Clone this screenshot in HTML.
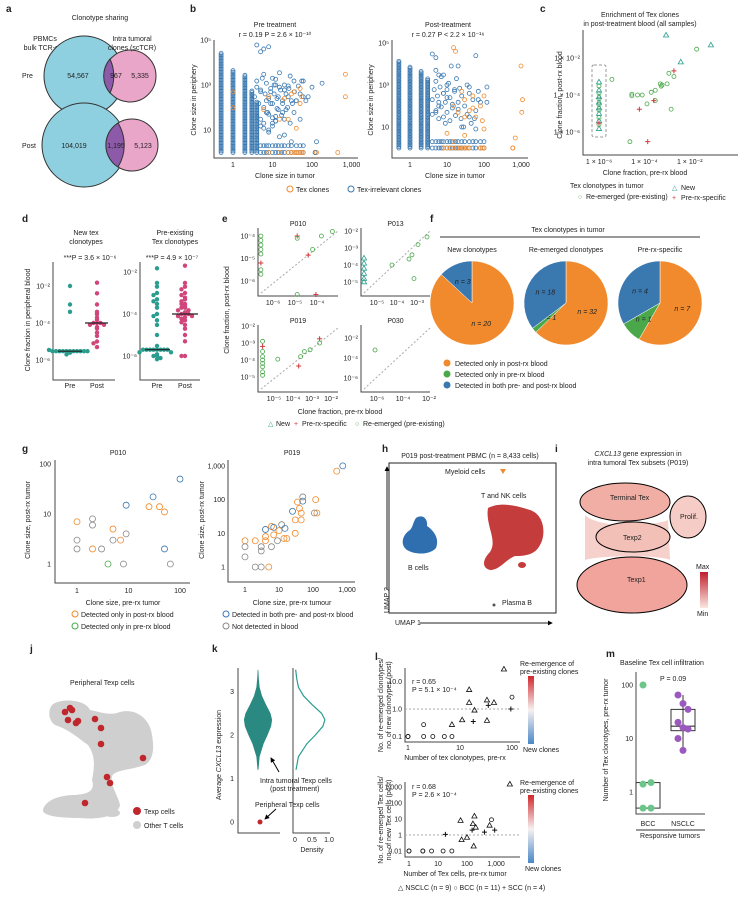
<!DOCTYPE html>
<html><head><meta charset="utf-8"><style>
html,body{margin:0;padding:0;background:#fff}
svg{display:block;font-family:"Liberation Sans",sans-serif}
text{font-size:7px;fill:#222}
.pl{font-size:10px;font-weight:bold}
.ax{stroke:#444;stroke-width:1;fill:none}
</style></head><body>
<svg id="fig" width="743" height="906" viewBox="0 0 743 906">
<defs><linearGradient id="gr" x1="0" y1="0" x2="0" y2="1"><stop offset="0" stop-color="#c0202a"/><stop offset="1" stop-color="#fbe6e2"/></linearGradient>
<linearGradient id="gl" x1="0" y1="0" x2="0" y2="1"><stop offset="0" stop-color="#d0282c"/><stop offset="0.5" stop-color="#f7f0f0"/><stop offset="1" stop-color="#4a88c8"/></linearGradient>
<marker id="arr" viewBox="0 0 6 6" refX="5" refY="3" markerWidth="5" markerHeight="5" orient="auto"><path d="M0,0L6,3L0,6Z" fill="#000"/></marker></defs>
<g id="static">
<!-- panel a -->
<text class="pl" x="6" y="12">a</text>
<text x="100" y="20" text-anchor="middle">Clonotype sharing</text>
<text x="45" y="41" text-anchor="middle">PBMCs</text>
<text x="45" y="50" text-anchor="middle">bulk TCR-seq</text>
<circle cx="84" cy="76" r="40" fill="#8fd0e0" stroke="#333"/>
<circle cx="130" cy="76" r="26" fill="#e9a6c9" stroke="#333"/>
<path d="M110,59 A26,26 0 0 0 110,93 A40,40 0 0 0 110,59Z" fill="#8c5aa8" stroke="#333"/>
<text x="132" y="41" text-anchor="middle">Intra tumoral</text>
<text x="132" y="50" text-anchor="middle">clones (scTCR)</text>
<text x="22" y="78">Pre</text>
<text x="78" y="78" text-anchor="middle">54,567</text>
<text x="116" y="78" text-anchor="middle">967</text>
<text x="140" y="78" text-anchor="middle">5,335</text>
<circle cx="84" cy="145" r="42" fill="#8fd0e0" stroke="#333"/>
<circle cx="132" cy="145" r="26" fill="#e9a6c9" stroke="#333"/>
<path d="M118,123 A26,26 0 0 0 118,167 A42,42 0 0 0 118,123Z" fill="#8c5aa8" stroke="#333"/>
<text x="22" y="148">Post</text>
<text x="74" y="148" text-anchor="middle">104,019</text>
<text x="116" y="148" text-anchor="middle">1,195</text>
<text x="143" y="148" text-anchor="middle">5,123</text>
<!-- panel b -->
<text class="pl" x="190" y="12">b</text>
<text x="275" y="27" text-anchor="middle">Pre treatment</text>
<text x="275" y="37" text-anchor="middle">r = 0.19   P = 2.6 × 10⁻¹⁰</text>
<text x="448" y="27" text-anchor="middle">Post-treatment</text>
<text x="448" y="37" text-anchor="middle">r = 0.27   P &lt; 2.2 × 10⁻¹⁶</text>
<text x="285" y="178" text-anchor="middle">Clone size in tumor</text>
<text x="455" y="178" text-anchor="middle">Clone size in tumor</text>
<text transform="translate(196,100) rotate(-90)" text-anchor="middle">Clone size in periphery</text>
<text transform="translate(373,100) rotate(-90)" text-anchor="middle">Clone size in periphery</text>
<circle cx="290" cy="189" r="3" fill="none" stroke="#f08a2c"/>
<text x="296" y="192">Tex clones</text>
<circle cx="351" cy="189" r="3" fill="none" stroke="#3a78b0"/>
<text x="357" y="192">Tex-irrelevant clones</text>
<!-- panel c -->
<text class="pl" x="540" y="12">c</text>
<text x="640" y="17" text-anchor="middle">Enrichment of Tex clones</text>
<text x="640" y="26" text-anchor="middle">in post-treatment blood (all samples)</text>
<text x="645" y="175" text-anchor="middle">Clone fraction, pre-rx blood</text>
<text transform="translate(562,95) rotate(-90)" text-anchor="middle">Clone fraction, post-rx blood</text>
<rect x="592" y="65" width="14" height="72" rx="2" fill="none" stroke="#999" stroke-dasharray="3,2"/>
<text x="570" y="188">Tex clonotypes in tumor</text>
<text x="578" y="199" style="fill:#4aa84a">○</text>
<text x="586" y="199">Re-emerged (pre-existing)</text>
<text x="672" y="190" style="fill:#2a9d8f">△</text>
<text x="681" y="190">New</text>
<text x="672" y="200" style="fill:#d23a3a">+</text>
<text x="681" y="200">Pre-rx-specific</text>
<!-- panel d -->
<text class="pl" x="22" y="222">d</text>
<text x="86" y="235" text-anchor="middle">New tex</text>
<text x="86" y="244" text-anchor="middle">clonotypes</text>
<text x="90" y="260" text-anchor="middle">***P = 3.6 × 10⁻⁶</text>
<text x="175" y="235" text-anchor="middle">Pre-existing</text>
<text x="175" y="244" text-anchor="middle">Tex clonotypes</text>
<text x="172" y="260" text-anchor="middle">***P = 4.9 × 10⁻⁷</text>
<text transform="translate(30,320) rotate(-90)" text-anchor="middle">Clone fraction in peripheral blood</text>
<!-- panel e -->
<text class="pl" x="222" y="222">e</text>
<text transform="translate(229,310) rotate(-90)" text-anchor="middle">Clone fraction, post-rx blood</text>
<text x="340" y="414" text-anchor="middle">Clone fraction, pre-rx blood</text>
<!-- panel f -->
<text class="pl" x="430" y="222">f</text>
<text x="568" y="232" text-anchor="middle">Tex clonotypes in tumor</text>
<line x1="440" y1="237" x2="700" y2="237" stroke="#333"/>
<text x="472" y="252" text-anchor="middle">New clonotypes</text>
<text x="566" y="252" text-anchor="middle">Re-emerged clonotypes</text>
<text x="660" y="252" text-anchor="middle">Pre-rx-specific</text>
<circle cx="447" cy="363" r="3.5" fill="#f08a2c"/>
<text x="455" y="366">Detected only in post-rx blood</text>
<circle cx="447" cy="374" r="3.5" fill="#4aa84a"/>
<text x="455" y="377">Detected only in pre-rx blood</text>
<circle cx="447" cy="385" r="3.5" fill="#3a78b0"/>
<text x="455" y="388">Detected in both pre- and post-rx blood</text>
<!-- panel g -->
<text class="pl" x="22" y="452">g</text>
<text x="118" y="455" text-anchor="middle">P010</text>
<text x="292" y="455" text-anchor="middle">P019</text>
<text x="123" y="605" text-anchor="middle">Clone size, pre-rx tumor</text>
<text x="292" y="605" text-anchor="middle">Clone size, pre-rx tumour</text>
<text transform="translate(30,520) rotate(-90)" text-anchor="middle">Clone size, post-rx tumor</text>
<text transform="translate(204,520) rotate(-90)" text-anchor="middle">Clone size, post-rx tumor</text>
<circle cx="75" cy="614" r="3" fill="none" stroke="#f08a2c"/>
<text x="81" y="617">Detected only in post-rx blood</text>
<circle cx="75" cy="626" r="3" fill="none" stroke="#4aa84a"/>
<text x="81" y="629">Detected only in pre-rx blood</text>
<circle cx="226" cy="614" r="3" fill="none" stroke="#3a78b0"/>
<text x="232" y="617">Detected in both pre- and post-rx blood</text>
<circle cx="226" cy="626" r="3" fill="none" stroke="#888"/>
<text x="232" y="629">Not detected in blood</text>
<!-- panel h -->
<text class="pl" x="382" y="452">h</text>
<text x="470" y="458" text-anchor="middle">P019 post-treatment PBMC (n = 8,433 cells)</text>
<rect x="389" y="463" width="167" height="150" fill="none" stroke="#222"/>
<line x1="420" y1="623" x2="552" y2="623" stroke="#222" marker-end="url(#arr)"/>
<text x="395" y="625">UMAP 1</text>
<line x1="387" y1="590" x2="387" y2="467" stroke="#222" marker-end="url(#arr)"/>
<text transform="translate(389,613) rotate(-90)">UMAP 2</text>
<text x="445" y="474">Myeloid cells</text>
<path d="M500,469 l6,0 l-3,5z" fill="#f08a2c"/>
<text x="481" y="498">T and NK cells</text>
<path d="M488,508 C500,502 515,505 530,510 C545,515 546,535 540,545 C535,555 525,556 515,556 C505,560 500,570 490,570 C482,568 482,560 490,552 C498,540 485,525 488,508Z" fill="#c43c3c"/>
<ellipse cx="522" cy="565" rx="4" ry="3" fill="#c43c3c"/>
<path d="M416,518 C422,514 428,518 427,526 C433,530 440,538 436,548 C430,555 415,555 407,550 C400,545 402,535 410,530 C413,527 413,522 416,518Z" fill="#2f6fb0"/>
<text x="408" y="570">B cells</text>
<circle cx="494" cy="605" r="1.5" fill="#555"/>
<text x="502" y="605">Plasma B</text>
<!-- panel i -->
<text class="pl" x="555" y="452">i</text>
<text x="638" y="456" text-anchor="middle"><tspan font-style="italic">CXCL13</tspan> gene expression in</text>
<text x="638" y="465" text-anchor="middle">intra tumoral Tex subsets (P019)</text>
<path d="M585,515 C600,530 660,525 668,520 L670,560 C660,555 600,555 585,560Z" fill="#f6d0ca"/>
<ellipse cx="625" cy="502" rx="45" ry="19" fill="#f0aea4" stroke="#000"/>
<text x="610" y="500">Terminal Tex</text>
<ellipse cx="688" cy="517" rx="18" ry="21" fill="#f6cdc6" stroke="#000"/>
<text x="680" y="519">Prolif.</text>
<ellipse cx="633" cy="537" rx="37" ry="15" fill="#f3c0b8" stroke="#000"/>
<text x="623" y="540">Texp2</text>
<ellipse cx="632" cy="585" rx="55" ry="28" fill="#f0a49c" stroke="#000"/>
<text x="627" y="582">Texp1</text>
<rect x="700" y="572" width="8" height="36" fill="url(#gr)"/>
<text x="696" y="569">Max</text>
<text x="697" y="616">Min</text>
<!-- panel j -->
<text class="pl" x="30" y="652">j</text>
<text x="70" y="685">Peripheral Texp cells</text>
<path d="M52,705 C60,698 85,699 90,710 C100,712 110,716 120,712 C135,708 150,718 152,735 C155,752 152,760 145,765 C130,770 115,770 112,776 C110,786 118,795 120,805 C118,816 100,820 80,818 C55,818 42,815 43,810 C45,800 60,795 75,795 C90,794 95,790 92,780 C95,765 95,755 88,745 C78,738 70,730 55,725 C48,720 48,710 52,705Z" fill="#cfcfcf"/>
<ellipse cx="112" cy="813" rx="8" ry="4" fill="#cfcfcf"/>
<circle cx="137" cy="811" r="4" fill="#c0272d"/>
<text x="144" y="814">Texp cells</text>
<circle cx="137" cy="825" r="4" fill="#cfcfcf"/>
<text x="144" y="828">Other T cells</text>
<!-- panel k -->
<text class="pl" x="212" y="652">k</text>
<text transform="translate(221,755) rotate(-90)" text-anchor="middle">Average <tspan font-style="italic">CXCL13</tspan> expression</text>
<text x="260" y="783">Intra tumoral Texp cells</text>
<text x="270" y="791">(post treatment)</text>
<line x1="279" y1="772" x2="271" y2="758" stroke="#000" marker-end="url(#arr)"/>
<text x="255" y="807">Peripheral Texp cells</text>
<line x1="276" y1="809" x2="265" y2="819" stroke="#000" marker-end="url(#arr)"/>
<text x="312" y="852" text-anchor="middle">Density</text>
<!-- panel l -->
<text class="pl" x="375" y="660">l</text>
<text x="412" y="684">r = 0.65</text>
<text x="412" y="692">P = 5.1 × 10⁻⁴</text>
<text x="455" y="760" text-anchor="middle">Number of tex clonotypes, pre-rx</text>
<text transform="translate(383,705) rotate(-90)" text-anchor="middle">No. of re-emerged clonotypes/</text>
<text transform="translate(391,705) rotate(-90)" text-anchor="middle">no. of new clonotypes (post)</text>
<rect x="528" y="676" width="6" height="68" fill="url(#gl)"/>
<text x="520" y="666">Re-emergence of</text>
<text x="520" y="674">pre-existing clones</text>
<text x="523" y="752">New clones</text>
<text x="412" y="789">r = 0.68</text>
<text x="412" y="797">P = 2.6 × 10⁻⁴</text>
<text x="455" y="876" text-anchor="middle">Number of Tex cells, pre-rx tumor</text>
<text transform="translate(383,820) rotate(-90)" text-anchor="middle">No. of re-emerged Tex cells/</text>
<text transform="translate(391,820) rotate(-90)" text-anchor="middle">no. of new Tex cells (post)</text>
<rect x="528" y="795" width="6" height="68" fill="url(#gl)"/>
<text x="520" y="785">Re-emergence of</text>
<text x="520" y="793">pre-existing clones</text>
<text x="525" y="871">New clones</text>
<text x="398" y="890">△ NSCLC (n = 9)  ○ BCC (n = 11)  + SCC (n = 4)</text>
<!-- panel m -->
<text class="pl" x="606" y="657">m</text>
<text x="662" y="665" text-anchor="middle">Baseline Tex cell infiltration</text>
<text x="660" y="681">P = 0.09</text>
<text transform="translate(608,740) rotate(-90)" text-anchor="middle">Number of Tex clonotypes, pre-rx tumor</text>
<text x="648" y="826" text-anchor="middle">BCC</text>
<text x="683" y="826" text-anchor="middle">NSCLC</text>
<line x1="636" y1="830" x2="705" y2="830" stroke="#333"/>
<text x="670" y="838" text-anchor="middle">Responsive tumors</text>
</g>
<g id="dyn"></g>
</svg>
<script>
// ---------- data ----------
const bPreColX=[0.5,1,2,3,4];
const bPreColLo=[1,1,1,1,1];
const bPreColHi=[30000,5000,3000,600,200];
const bPreX=[1,1,4,5,6,8,8,10,12,15,20,25,30,35,40,50,60,80,100,130,180,6,9,12,18,25,40,55,70,120,8,20,30,50,700,700,20,35,50,10,15];
const bPreY=[500,100,60000,30000,40000,50000,300,2000,1000,800,600,900,400,1500,200,700,1500,300,800,3,1200,80,150,25,60,30,12,300,200,1,10,6,3,30,3000,300,250,500,150,15,30];
const bPreT=[1,1,0,0,0,0,1,0,0,0,0,0,1,0,0,1,0,0,0,0,0,1,0,0,0,1,1,1,0,0,0,0,0,0,1,1,1,1,1,0,1];
const bPreCloudX=[3.5,4,4.5,5,5.5,6,6.5,7,7.5,8,9,10,11,12,13,14,16,18,20,22,25,28,32,36,40,45,50,55,60,4,5,6,7,8,10,12,14,17,20,24,28,35,4,5,6,7,9,11,13,15,18,22,26,30,5,6,8,10,12,15];
const bPreCloudY=[300,800,150,500,2000,100,400,1200,60,250,700,150,400,1800,90,300,600,200,1000,80,300,2500,150,500,200,900,400,1500,300,40,30,20,60,50,35,25,80,45,30,100,20,60,1500,600,3000,200,500,1000,250,3500,150,400,700,200,15,12,8,20,40,5];
const bPreRowX=[5,6,7,8,10,12,14,17,20,25,30,40,50,60];
const bPreTexRowX=[8,15,25,30,35,40,45,50,55,60,120,130,450];
const bPostColX=[0.5,1,2,3];
const bPostColLo=[1,1,1,1];
const bPostColHi=[15000,8000,5000,2000];
const bPostX=[4,5,8,10,15,17,20,25,30,40,50,60,80,100,120,15,20,30,40,50,60,70,90,100,600,700,1000,1100,1050,10,15,25,30,40,60,5,6,120];
const bPostY=[30000,20000,3000,1000,60000,40000,8000,500,200,800,300,25000,100,300,150,100,50,30,60,80,30,200,20,8,1,3,8000,200,50,5,2,10,4,30,8,50,150,800];
const bPostT=[0,0,0,0,1,1,0,1,1,0,1,0,1,1,0,1,1,1,1,1,1,0,1,1,1,1,1,1,1,1,1,0,1,0,0,0,0,0];
const bPostCloudX=[4,4.5,5,5.5,6,6.5,7,8,9,10,11,12,14,16,18,20,22,25,30,35,40,50,60,70,80,4,5,6,7,8,9,10,12,14,17,20,24,28,35,45,55,5,6,8,10,13,16];
const bPostCloudY=[200,600,1500,300,100,800,2500,400,150,600,1200,250,80,500,2000,150,700,300,100,1000,400,200,60,500,150,40,60,25,90,30,15,50,20,120,35,70,25,10,40,15,25,5000,3000,400,250,8000,600];
const bPostRowX=[4,5,6,7,8,10,12,14,17,20,25,30,40,50,60,80,100];
const bPostTexRowX=[8,10,12,15,18,22,26,30,35,40,80,90,100,600];
// c
const cX=[1e-6,1e-6,1e-6,1e-6,1e-6,1e-6,1e-6,1e-6,1e-6,1e-6,1e-6,1e-6,1e-6,1e-6,1e-6,1e-6,3.7e-6,2.8e-5,2.8e-5,5e-5,8e-5,2e-4,3e-4,5e-4,5.5e-4,6e-4,1e-3,1.2e-3,2e-3,2e-2,1.5e-3,2.3e-5,1.3e-4,3e-4,6e-5,2.6e-4,2e-3,1.4e-4,9e-4,4e-3,8.5e-2];
const cY=[1.5e-6,2.5e-6,4e-6,6e-6,1e-5,1.5e-5,2e-5,3e-5,4e-5,6e-5,8e-5,1.2e-4,1.8e-4,3e-4,5e-4,3e-6,7e-4,1.1e-4,9e-5,1e-4,1e-4,1.4e-4,1.8e-4,4e-4,3e-4,3.5e-4,4e-4,1.5e-3,1e-3,3e-2,1.7e-5,3e-7,3.3e-5,5e-5,1.7e-5,5e-5,2e-3,3e-7,0.17,6e-3,5e-2];
const cT=[0,1,0,1,0,1,0,1,0,1,0,1,0,1,0,2,1,1,1,1,1,1,1,1,1,1,1,1,1,1,1,1,1,1,2,2,2,2,0,0,0];
// d
const dLeftPre=[3e-6,3e-6,3e-6,3e-6,3e-6,3e-6,3e-6,3e-6,3e-6,3e-6,3e-6,2.5e-6,3.5e-6,2e-6,1e-2,1e-3,4e-4];
const dLeftPost=[1.5e-2,4e-3,1e-3,4e-4,3e-4,2e-4,1.5e-4,1e-4,1e-4,1e-4,8e-5,8e-5,6e-5,5e-5,3e-5,2e-5,1e-5,8e-6,5e-6];
const dRightPre=[1.5e-2,3e-3,2e-3,1e-3,8e-4,5e-4,4e-4,3e-4,2e-4,1e-4,8e-5,5e-5,3e-5,1e-5,3e-6,2e-6,2e-6,2e-6,2e-6,2e-6,2e-6,2e-6,2e-6,1.5e-6,1.5e-6,1.2e-6,1e-6,1e-6,8e-7,7e-7];
const dRightPost=[2e-2,3e-3,2e-3,1.5e-3,1e-3,8e-4,6e-4,5e-4,4e-4,3e-4,3e-4,2.5e-4,2e-4,2e-4,1.5e-4,1.5e-4,1.2e-4,1e-4,1e-4,1e-4,8e-5,8e-5,7e-5,6e-5,5e-5,4e-5,3e-5,2e-5,1e-5,5e-6,1e-6,1e-6];
// e (log10 values) per patient: P010, P013, P019, P030
const eX=[[-6.55,-6.55,-6.55,-6.55,-6.55,-6.55,-6.55,-6.55,-4.9,-4.9,-4.4,-4.2,-3.8,-3.3,-4.9,-4.05],
 [-5.65,-5.65,-5.65,-5.65,-5.65,-5.65,-4.25,-3.4,-3.25,-2.95,-2.5,-3.15],
 [-5.6,-5.6,-5.6,-5.6,-5.6,-5.6,-5.6,-5.6,-5.6,-4.8,-3.6,-3.4,-3.1,-3.7,-2.6,-2.6],
 [-6.15]];
const eY=[[-4,-4.2,-4.4,-4.6,-4.8,-5.2,-5.5,-5.7,-4,-4.1,-4.85,-4.6,-4,-3.8,-6.6,-6.6],
 [-3.6,-3.9,-4.2,-4.5,-4.8,-5,-4,-3.65,-3.4,-2.8,-2.35,-4.8],
 [-2.9,-3.2,-3.5,-3.8,-4,-4.2,-4.4,-4.7,-4.9,-3.95,-3.8,-3.5,-3.4,-4.35,-2.75,-3.0],
 [-3.2]];
const eS=[[1,1,1,1,1,2,1,1,2,1,2,1,1,1,1,2],[0,0,0,0,0,0,1,1,1,1,1,1],[1,2,1,1,1,1,1,1,1,1,1,1,1,2,2,1],[1]];
// f pies: [post only, pre only, both]
const fNew=[20,0,3];
const fRe=[32,1,18];
const fPre=[7,1,4];
// g
const gAX=[1,1,1,2,2,2,3,5,5,7,8,9,9,25,30,40,50,50,65,100,4];
const gAY=[7,3,2,8,6,2,2,5,3,3,1,4,15,14,22,14,11,2,1,50,1];
const gAC=[0,3,3,3,3,0,3,0,3,0,3,3,1,0,1,0,0,1,3,1,2];
const gBX=[1,1,1,2,2,3,3,3,4,4,4,5,6,6,7,7,9,10,12,14,15,17,25,30,30,35,40,45,45,50,50,110,120,130,500,750];
const gBY=[6,4,2,6,1,4,3,1,13,8,6,1,16,4,9,15,6,12,18,7,14,7,45,25,10,85,55,40,25,90,120,40,100,40,700,1000];
const gBC=[0,3,3,0,3,3,3,3,1,0,0,0,0,3,0,1,3,0,3,0,1,0,1,0,0,0,0,0,0,1,3,3,0,0,0,1];
// l
const lTopX=[1,1,2,2,3,5,7,7,11,15,15,18,19,33,33,35,45,70,95,100];
const lTopY=[0.1,0.1,0.27,0.1,0.1,0.1,0.1,0.27,0.4,5,1.7,0.35,0.9,2.1,0.38,1.35,1.7,28,1,2.7];
const lTopS=[1,1,1,1,1,1,1,0,0,0,0,2,0,0,0,2,0,0,2,1];
const lBotX=[1,1,3,3,6,15,30,18,60,65,100,150,160,170,180,200,400,600,700,900,3000];
const lBotY=[0.01,0.01,0.03,0.01,0.01,0.01,0.01,1.1,8,0.5,0.7,2,5,0.2,15,3,1.5,4,9,2,1500];
const lBotS=[1,1,1,1,1,1,1,2,0,0,0,2,0,0,0,0,2,0,1,2,0];
// m
const mBcc=[100,1.5,1.4,0.5,0.5];
const mNsclc=[65,45,35,20,16,15,10,6];
// k
const kDensY=[1.2,1.5,1.8,2.0,2.2,2.35,2.5,2.7,2.9,3.1,3.3,3.5];
const kDensV=[0.03,0.1,0.35,0.6,0.82,0.88,0.78,0.5,0.25,0.1,0.05,0.02];
// j texp points (pixel-space umap coords)
const jX=[65,70,68,76,78,95,101,101,143,107,110,85,72];
const jY=[712,708,720,723,721,719,728,744,758,777,783,803,710];

// ---------- helpers ----------
const NS='http://www.w3.org/2000/svg';
const G=document.getElementById('dyn');
function mk(tag,a){const e=document.createElementNS(NS,tag);for(const k in a)e.setAttribute(k,a[k]);G.appendChild(e);return e;}
function logS(d0,p0,ppd){return v=>p0+(Math.log10(v)-d0)*ppd;}
function linS(d0,p0,ppd){return v=>p0+(v-d0)*ppd;}
function txt(x,y,s,anchor){const t=mk('text',{x:x,y:y,'text-anchor':anchor||'middle'});t.textContent=s;return t;}
function axes(x0,y0,x1,y1,name){
 const l=mk('path',{d:`M${x0},${y1}L${x0},${y0}L${x1},${y0}`,class:'ax'});
 
 
}
function xt(sx,vals,labs,y,name){vals.forEach((v,i)=>{const t=txt(sx(v),y,labs[i]);
 
 });}
function yt(sy,vals,labs,x,name){vals.forEach((v,i)=>{const t=txt(x,sy(v)+2.5,labs[i],'end');
 
 });}
const COL=['#f08a2c','#3a78b0','#4aa84a','#888'];
function circ(x,y,r,stroke,fill,name){const c=mk('circle',{cx:x,cy:y,r:r,fill:fill||'none',stroke:stroke||'none','stroke-width':0.8});
 
 return c;}
function marker(x,y,shape,color,name){
 let e;
 if(shape==0)e=mk('path',{d:`M${x},${y-2.8}L${x+2.6},${y+1.8}L${x-2.6},${y+1.8}Z`,fill:'none',stroke:color,'stroke-width':0.8});
 else if(shape==1)e=mk('circle',{cx:x,cy:y,r:2,fill:'none',stroke:color,'stroke-width':0.8});
 else e=mk('path',{d:`M${x-2.5},${y}H${x+2.5}M${x},${y-2.5}V${y+2.5}`,stroke:color,'stroke-width':1});
 
 
}

// ---------- panel b ----------
function bPanel(colX,colLo,colHi,X,Y,T,cX_,cY_,rowX,texRowX,sx,sy,x0,x1,y0,yTop,name){
 axes(x0,y0,x1,yTop,name);
 colX.forEach((cx,i)=>{for(let v=Math.log10(colLo[i]);v<=Math.log10(colHi[i]);v+=0.07){
   circ(sx(cx),sy(Math.pow(10,v)),2,'#3a78b0',null,name+'-irrelevant-point');}});
 cX_.forEach((x,i)=>circ(sx(x),sy(cY_[i]),2,'#3a78b0',null,name+'-irrelevant-point'));
 rowX.forEach(x=>{circ(sx(x),sy(1),2,'#3a78b0',null,name+'-irrelevant-point');circ(sx(x),sy(2),2,'#3a78b0',null,name+'-irrelevant-point');});
 texRowX.forEach(x=>circ(sx(x),sy(1),2,'#f08a2c',null,name+'-tex-point'));
 X.forEach((x,i)=>circ(sx(x),sy(Y[i]),2,T[i]?'#f08a2c':'#3a78b0',null,name+(T[i]?'-tex-point':'-irrelevant-point')));
 xt(sx,[1,10,100,1000],['1','10','100','1,000'],y0+9,name);
 yt(sy,[10,1000,100000],['10','10³','10⁵'],x0-3,name);
}
const bsx=logS(0,233,39.5), bsy=logS(1,130,-22.5);
bPanel(bPreColX,bPreColLo,bPreColHi,bPreX,bPreY,bPreT,bPreCloudX,bPreCloudY,bPreRowX,bPreTexRowX,bsx,bsy,214,358,158,40,'b-pre');
const bsx2=logS(0,410,37), bsy2=logS(1,127,-21);
bPanel(bPostColX,bPostColLo,bPostColHi,bPostX,bPostY,bPostT,bPostCloudX,bPostCloudY,bPostRowX,bPostTexRowX,bsx2,bsy2,392,528,158,40,'b-post');

// ---------- panel c ----------
const csx=logS(-6,599,22.7), csy=logS(-4,95,-18.5);
axes(583,155,738,30,'c');
xt(csx,[1e-6,1e-4,1e-2],['1 × 10⁻⁶','1 × 10⁻⁴','1 × 10⁻²'],164,'c');
yt(csy,[1e-2,1e-4,1e-6],['1 × 10⁻²','1 × 10⁻⁴','1 × 10⁻⁶'],580,'c');
cX.forEach((x,i)=>marker(csx(x),csy(cY[i]),[0,1,2][cT[i]],['#2a9d8f','#4aa84a','#d23a3a'][cT[i]],'c-point'));

// ---------- panel d ----------
function swarm(vals,cx,sy,color,name){
 const used={};vals.forEach(v=>{const y=sy(v);const k=Math.round(y/3);used[k]=(used[k]||0)+1;const n=used[k];
  const off=(n%2?1:-1)*Math.floor(n/2)*3.5;circ(cx+off,y,2.2,null,color,name);});}
const dsy=logS(-2,286,-18.5);
axes(53,380,115,262,'d-left');
yt(dsy,[1e-2,1e-4,1e-6],['10⁻²','10⁻⁴','10⁻⁶'],50,'d-left');
swarm(dLeftPre,70,dsy,'#2a9d8f','d-left-pre-point');
swarm(dLeftPost,97,dsy,'#d0457a','d-left-post-point');
mk('line',{x1:58,x2:82,y1:dsy(3e-6),y2:dsy(3e-6),stroke:'#222','stroke-width':1.2});
mk('line',{x1:85,x2:108,y1:dsy(1e-4),y2:dsy(1e-4),stroke:'#222','stroke-width':1.2});
txt(70,388,'Pre');txt(97,388,'Post');
const dsy2=logS(-2,272,-21);
axes(140,380,200,262,'d-right');
yt(dsy2,[1e-2,1e-4,1e-6],['10⁻²','10⁻⁴','10⁻⁶'],137,'d-right');
swarm(dRightPre,157,dsy2,'#2a9d8f','d-right-pre-point');
swarm(dRightPost,185,dsy2,'#d0457a','d-right-post-point');
mk('line',{x1:145,x2:170,y1:dsy2(2e-6),y2:dsy2(2e-6),stroke:'#222','stroke-width':1.2});
mk('line',{x1:172,x2:198,y1:dsy2(1e-4),y2:dsy2(1e-4),stroke:'#222','stroke-width':1.2});
txt(157,388,'Pre');txt(185,388,'Post');

// ---------- panel e ----------
const eP=[['P010',258,296,228,338,-6,273,22,-4,236,-22.5,[-6,-5,-4],[-4,-5,-6]],
 ['P013',361,296,228,430,-5,377,20,-2,231,-17,[-5,-4,-3],[-2,-3,-4,-5]],
 ['P019',258,392,325,338,-5,274,19,-2,326,-17,[-5,-4,-3,-2],[-2,-3,-4,-5]],
 ['P030',361,392,325,430,-6,377,13,-2,338,-10,[-6,-4,-2],[-2,-4,-6]]];
const sup={'-2':'⁻²','-3':'⁻³','-4':'⁻⁴','-5':'⁻⁵','-6':'⁻⁶'};
eP.forEach((p,j)=>{const nm='e-'+p[0].toLowerCase();axes(p[1],p[2],p[4],p[3],nm);
 const tt=txt((p[1]+p[4])/2,p[3]-2,p[0]);
 const sx=linS(p[5],p[6],p[7]),sy=linS(p[8],p[9],p[10]);
 const dl=mk('line',{x1:p[1]+3,y1:p[2]-3,x2:p[4],y2:p[3]+3,stroke:'#aaa','stroke-dasharray':'2,2'});
 
 xt(sx,p[11],p[11].map(v=>'10'+sup[v]),p[2]+9,nm);
 yt(sy,p[12],p[12].map(v=>'10'+sup[v]),p[1]-3,nm);
 eX[j].forEach((x,i)=>marker(sx(x),sy(eY[j][i]),eS[j][i],['#2a9d8f','#4aa84a','#d23a3a'][eS[j][i]],nm+'-point'));
});
const el1=txt(268,426,'△','start');el1.setAttribute('style','fill:#2a9d8f');
txt(276,426,'New','start');
const el2=txt(294,426,'+','start');el2.setAttribute('style','fill:#d23a3a');
txt(302,426,'Pre-rx-specific','start');
const el3=txt(355,426,'○','start');el3.setAttribute('style','fill:#4aa84a');
txt(363,426,'Re-emerged (pre-existing)','start');

// ---------- panel f ----------
function pie(vals,cx,cy,r,name){const tot=vals.reduce((a,b)=>a+b,0);let a0=0;
 const cols=['#f08a2c','#4aa84a','#3a78b0'];
 vals.forEach((v,i)=>{if(!v)return;const a1=a0+v/tot*2*Math.PI;
  const p=mk('path',{d:`M${cx},${cy}L${cx+r*Math.sin(a0)},${cy-r*Math.cos(a0)}A${r},${r} 0 ${a1-a0>Math.PI?1:0} 1 ${cx+r*Math.sin(a1)},${cy-r*Math.cos(a1)}Z`,fill:cols[i],stroke:'#fff','stroke-width':0.5});
  
  
  const am=(a0+a1)/2;const t=txt(cx+r*0.55*Math.sin(am),cy-r*0.55*Math.cos(am)+2,'n = '+v);
  t.setAttribute('font-style','italic');
  a0=a1;});}
pie(fNew,472,303,42,'f-new');pie(fRe,566,303,42,'f-re');pie(fPre,660,303,42,'f-pre');

// ---------- panel g ----------
const gsx=logS(0,77,51.5),gsy=logS(0,564,-50);
axes(55,583,190,460,'g-p010');
xt(gsx,[1,10,100],['1','10','100'],593,'g-p010');
yt(gsy,[1,10,100],['1','10','100'],51,'g-p010');
gAX.forEach((x,i)=>circ(gsx(x),gsy(gAY[i]),3,COL[gAC[i]],null,'g-p010-point'));
const gsx2=logS(0,245,34),gsy2=logS(0,567,-33.7);
axes(228,582,355,460,'g-p019');
xt(gsx2,[1,10,100,1000],['1','10','100','1,000'],592,'g-p019');
yt(gsy2,[1,10,100,1000],['1','10','100','1,000'],225,'g-p019');
gBX.forEach((x,i)=>circ(gsx2(x),gsy2(gBY[i]),3,COL[gBC[i]],null,'g-p019-point'));

// ---------- panel j ----------
jX.forEach((x,i)=>circ(x,jY[i],3.3,null,'#c0272d','j-texp-point'));

// ---------- panel k ----------
const ksy=linS(0,822,-43.5);
mk('path',{d:'M238,668V833H280',class:'ax'});
[0,1,2,3].forEach(v=>{const t=txt(234,ksy(v)+2.5,String(v),'end');});
const vx=v=>258+v*16;
const vio=mk('path',{d:'M'+kDensY.map((y,i)=>vx(kDensV[i])+','+ksy(y)).join('L')+'L'+kDensY.slice().reverse().map((y,i)=>vx(-kDensV[kDensY.length-1-i])+','+ksy(y)).join('L')+'Z',fill:'#2a8a82'});

circ(260,ksy(0),2.5,null,'#c0272d','k-peripheral-point');
const dx=linS(0,295,34);
mk('path',{d:'M293,668V833H330',class:'ax'});
const dp=mk('path',{d:kDensY.map((y,i)=>(i?'L':'M')+dx(kDensV[i])+','+ksy(y)).join(''),fill:'none',stroke:'#2a9d8f','stroke-width':1.2});

[0,0.5,1.0].forEach(v=>{const t=txt(dx(v),842,v===1?'1.0':String(v));});

// ---------- panel l ----------
const lsx=logS(0,408,52),lsy=logS(0,709,-27.5);
axes(405,742,520,668,'l-top');
xt(lsx,[1,10,100],['1','10','100'],750,'l-top');
yt(lsy,[0.1,1,10],['0.1','1.0','10.0'],402,'l-top');
mk('line',{x1:405,x2:520,y1:lsy(1),y2:lsy(1),stroke:'#aaa','stroke-dasharray':'2,2'});
lTopX.forEach((x,i)=>marker(lsx(x),lsy(lTopY[i]),lTopS[i],'#111','l-top-point'));
const lbx=logS(0,409,29),lby=logS(0,835,-16);
axes(405,857,520,782,'l-bot');
xt(lbx,[1,10,100,1000],['1','10','100','1,000'],866,'l-bot');
yt(lby,[0.1,1,10,100,1000],['0.01','1','10','100','1,000'],402,'l-bot');
mk('line',{x1:405,x2:520,y1:lby(1),y2:lby(1),stroke:'#aaa','stroke-dasharray':'2,2'});
lBotX.forEach((x,i)=>marker(lbx(x),lby(Math.max(lBotY[i],0.1)),lBotS[i],'#111','l-bot-point'));

// ---------- panel m ----------
const msy=logS(0,792,-53.5);
axes(636,814,705,672,'m');
yt(msy,[1,10,100],['1','10','100'],633,'m');
const box1=mk('rect',{x:636,y:msy(1.5),width:24,height:msy(0.5)-msy(1.5),fill:'none',stroke:'#333'});
const box2=mk('rect',{x:671,y:msy(35),width:24,height:msy(14)-msy(35),fill:'none',stroke:'#333'});
mk('line',{x1:671,x2:695,y1:msy(17),y2:msy(17),stroke:'#333','stroke-width':1.2});
mk('line',{x1:683,x2:683,y1:msy(65),y2:msy(6),stroke:'#333'});
mBcc.forEach((v,i)=>circ(643+(i%2)*8,msy(v),3.5,null,'#6cc68a','m-bcc-point'));
mNsclc.forEach((v,i)=>circ(678+(i%3)*5,msy(v),3.5,null,'#9b59c0','m-nsclc-point'));
</script>
</body></html>
